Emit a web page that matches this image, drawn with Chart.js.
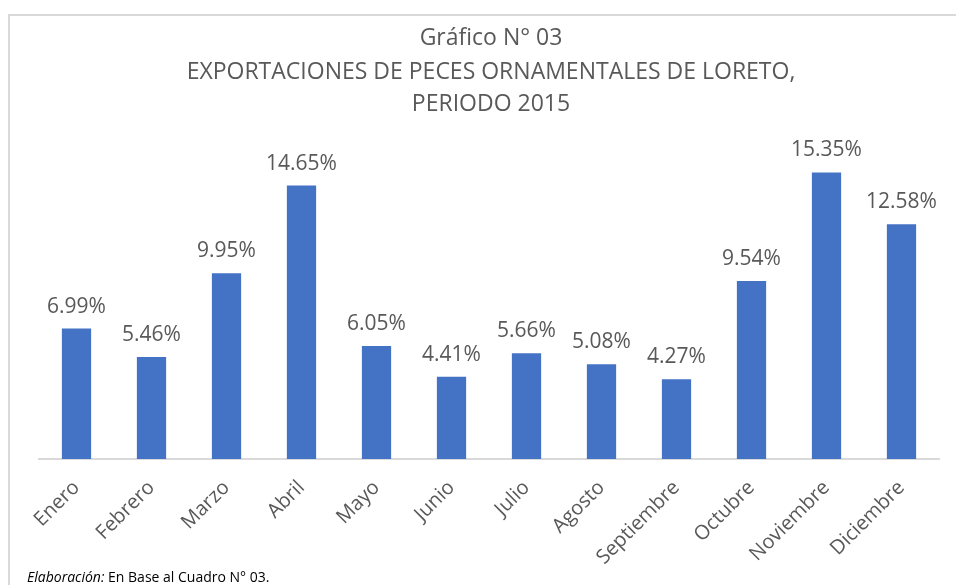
<!DOCTYPE html>
<html>
<head>
<meta charset="utf-8">
<script src="https://cdn.jsdelivr.net/npm/chart.js@4.4.1/dist/chart.umd.min.js"></script>
<style>
  html, body { margin: 0; padding: 0; background: #fff; }
  #wrap { position: relative; width: 956px; height: 585px; overflow: hidden; }
  #frame { position: absolute; left: 8px; top: 14px; width: 960px; height: 600px;
           border-left: 2px solid #d9d9d9; border-top: 2px solid #d9d9d9; box-sizing: border-box; }
  canvas { position: absolute; left: 0; top: 0; }
  #nota { position: absolute; left: 27px; top: 567px; font: 14px "Open Sans", sans-serif; color: #000; }
</style>
</head>
<body>
<div id="wrap">
  <div id="frame"></div>
  <canvas id="chart" width="956" height="585"></canvas>
  <div id="nota"><i>Elaboración:</i> En Base al Cuadro N° 03.</div>
</div>
<script>
// datos del gráfico
const meses = ["Enero", "Febrero", "Marzo", "Abril", "Mayo", "Junio", "Julio", "Agosto", "Septiembre", "Octubre", "Noviembre", "Diciembre"];
const porcentajes = [6.99, 5.46, 9.95, 14.65, 6.05, 4.41, 5.66, 5.08, 4.27, 9.54, 15.35, 12.58];
const tituloLineas = ["Gráfico N° 03", "EXPORTACIONES DE PECES ORNAMENTALES DE LORETO,", "PERIODO 2015"];

const gris = "#595959";
const fuente = '"Open Sans", sans-serif';

// título y etiquetas encima de las barras
const etiquetasPlugin = {
  id: "etiquetas",
  afterDraw(chart) {
    const ctx = chart.ctx;
    ctx.save();
    ctx.fillStyle = gris;
    ctx.textAlign = "center";
    ctx.textBaseline = "middle";
    ctx.font = "23px " + fuente;
    const ys = [38, 72, 104];
    tituloLineas.forEach((t, i) => ctx.fillText(t, 491, ys[i]));

    ctx.font = "21px " + fuente;
    ctx.textBaseline = "alphabetic";
    chart.getDatasetMeta(0).data.forEach((bar, i) => {
      ctx.fillText(porcentajes[i].toFixed(2) + "%", bar.x, bar.y - 16);
    });
    ctx.restore();
  }
};

new Chart(document.getElementById("chart"), {
  type: "bar",
  data: {
    labels: meses,
    datasets: [{
      data: porcentajes,
      backgroundColor: "#4472c4",
      categoryPercentage: 1,
      barPercentage: 0.39
    }]
  },
  options: {
    responsive: false,
    animation: false,
    layout: { padding: { left: 39, right: 17, top: 123, bottom: 0 } },
    plugins: { legend: { display: false }, tooltip: { enabled: false } },
    scales: {
      y: { display: false, min: 0, max: 18 },
      x: {
        grid: { display: false },
        border: { color: "#d9d9d9", width: 2 },
        ticks: { color: gris, font: { family: fuente, size: 20 }, minRotation: 45, maxRotation: 45, padding: 9 },
        afterFit(scale) { scale.height = 126; }
      }
    }
  },
  plugins: [etiquetasPlugin]
});
</script>
</body>
</html>
